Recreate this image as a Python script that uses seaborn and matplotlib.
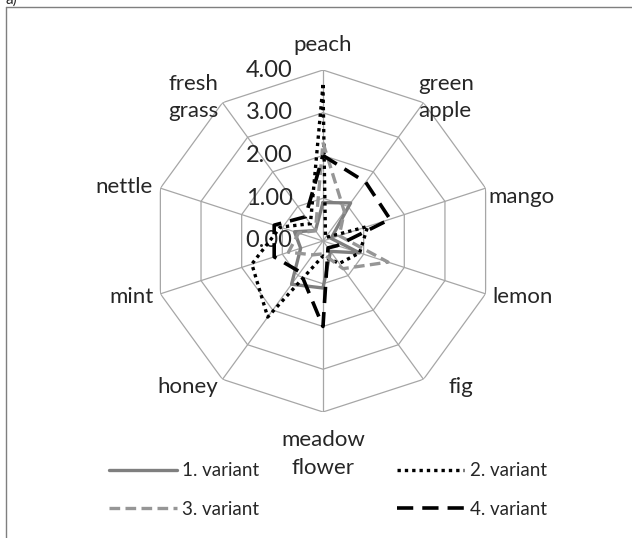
import numpy as np
import pandas as pd
import matplotlib.pyplot as plt
import seaborn as sns

categories = ["peach", "green\napple", "mango", "lemon", "fig", "meadow\nflower",
              "honey", "mint", "nettle", "fresh\ngrass"]
variant_1 = [0.9, 1.1, 0.2, 0.9, 0.3, 1.1, 1.25, 0.55, 0.7, 0.3]
variant_2 = [3.65, 0.1, 1.1, 0.9, 0.65, 0.35, 2.2, 1.75, 1.05, 0.5]
variant_3 = [2.3, 0.85, 0.4, 1.6, 0.8, 0.3, 0.4, 0.85, 0.6, 0.3]
variant_4 = [2.0, 1.7, 1.65, 0.35, 0.2, 2.0, 0.9, 1.2, 1.2, 0.7]
tick_values = [0, 1, 2, 3, 4]
tick_labels = ["0.00", "1.00", "2.00", "3.00", "4.00"]

series = {
    "1. variant": variant_1,
    "2. variant": variant_2,
    "3. variant": variant_3,
    "4. variant": variant_4,
}
styles = {
    "1. variant": dict(color="#7f7f7f", linestyle="-", linewidth=2.4),
    "2. variant": dict(color="black", linestyle=(0, (1, 1.2)), linewidth=2.4),
    "3. variant": dict(color="#969696", linestyle=(0, (3.2, 1.6)), linewidth=2.4),
    "4. variant": dict(color="black", linestyle=(0, (4.5, 2.5)), linewidth=2.6),
}

n = len(categories)
angles = np.linspace(0, 2 * np.pi, n, endpoint=False)
closed = np.append(angles, 2 * np.pi)

rows = []
for name, vals in series.items():
    for a, v in zip(closed, vals + vals[:1]):
        rows.append({"angle": a, "value": v, "variant": name})
df = pd.DataFrame(rows)

sns.set_style("white")
plt.rcParams["font.family"] = ["Lato", "DejaVu Sans"]

fig = plt.figure(figsize=(6.32, 5.38), dpi=100)
ax = fig.add_axes([0.2405, 0.2342, 0.5411, 0.6357], projection="polar")
ax.set_theta_zero_location("N")
ax.set_theta_direction(-1)
ax.set_ylim(0, 4)
ax.grid(False)
ax.spines["polar"].set_visible(False)
ax.set_xticks([])
ax.set_yticks([])

grid_col = "#a6a6a6"
for t in tick_values[1:]:
    ax.plot(closed, [t] * (n + 1), color=grid_col, lw=0.9, zorder=1)
for a in angles:
    ax.plot([a, a], [0, 4], color=grid_col, lw=0.9, zorder=1)

for name in series:
    sub = df[df["variant"] == name]
    sns.lineplot(data=sub, x="angle", y="value", ax=ax, label=name,
                 legend=False, zorder=3, **styles[name])
ax.set_xlabel("")
ax.set_ylabel("")

for t, lab in zip(tick_values, tick_labels):
    ax.annotate(lab, xy=(0, t), xytext=(-22, 0), textcoords="offset points",
                ha="right", va="center", fontsize=17, zorder=2)

# category label placement (pixel offsets from outer vertex)
label_pos = [("center", 0, 25), ("left", -5, 5), ("left", 3, -9), ("left", 7, -3),
             ("left", 25, -8), ("center", 0, -42), ("right", -4, -8),
             ("right", -7, -3), ("right", -8, 1), ("right", -4, 5)]
for a, lab, (ha, dx, dy) in zip(angles, categories, label_pos):
    ax.annotate(lab, xy=(a, 4), xytext=(dx * 0.72, dy * 0.72),
                textcoords="offset points", ha=ha, va="center", fontsize=16,
                linespacing=1.45, annotation_clip=False)

handles = ax.get_lines()[-4:]
labels = list(series.keys())
order = [0, 2, 1, 3]
fig.legend([handles[i] for i in order], [labels[i] for i in order],
           ncol=2, loc="center", bbox_to_anchor=(328 / 632, 1 - 490 / 538),
           frameon=False, fontsize=13.5, handlelength=3.6, labelspacing=1.13,
           columnspacing=7.3, handletextpad=0.3)

# outer frame
fig.add_artist(plt.Line2D([6 / 632, 6 / 632], [0, 1 - 7 / 538], color="#7f7f7f",
                          lw=1, transform=fig.transFigure))
fig.add_artist(plt.Line2D([6 / 632, 1], [1 - 7 / 538, 1 - 7 / 538], color="#7f7f7f",
                          lw=1, transform=fig.transFigure))
fig.text(5 / 632, 1.0, "a)", fontsize=11, ha="left", va="center")

fig.savefig("out.png", dpi=100)
